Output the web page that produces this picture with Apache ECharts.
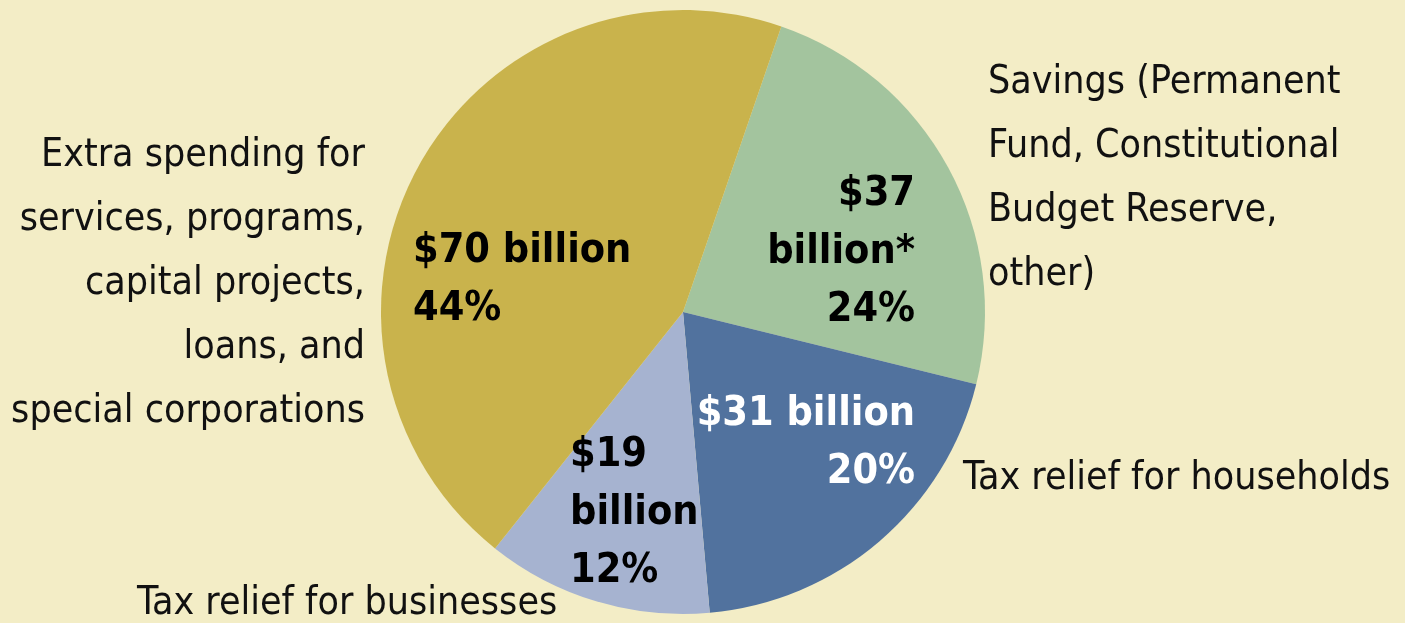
<!DOCTYPE html>
<html>
<head>
<meta charset="utf-8">
<title>Pie</title>
<script src="https://cdn.jsdelivr.net/npm/echarts@6/dist/echarts.min.js"></script>
<style>
  html, body { margin: 0; padding: 0; background: #f3edc6; }
  #main { width: 1405px; height: 623px; }
</style>
</head>
<body>
<div id="main"></div>
<script type="text/javascript">
    // data (billions of dollars)
    var names = [
        'Savings (Permanent\nFund, Constitutional\nBudget Reserve,\nother)',
        'Tax relief for households',
        'Tax relief for businesses',
        'Extra spending for\nservices, programs,\ncapital projects,\nloans, and\nspecial corporations'
    ];
    var values = [37, 31, 19, 70];
    var percents = [24, 20, 12, 44];
    var notes = ['*', '', '', ''];

    var colors = ['#a3c49e', '#51729e', '#a6b3d0', '#c9b34c'];
    var font = '"Liberation Sans Narrow", "DejaVu Sans Condensed", sans-serif';

    // how each inner label breaks its lines, and where it sits
    var innerBreaks = [['\n', '\n'], [' ', '\n'], ['\n', '\n'], [' ', '\n']];
    var innerPos = [
        {x: 915, y: 252, align: 'right'},
        {x: 915, y: 443, align: 'right'},
        {x: 570, y: 513, align: 'left'},
        {x: 413, y: 280, align: 'left'}
    ];
    var outerPos = [
        {x: 988, y: 179, align: 'left'},
        {x: 963, y: 479, align: 'left'},
        {x: 137, y: 604, align: 'left'},
        {x: 365, y: 284, align: 'right'}
    ];

    var myChart = echarts.init(document.getElementById('main'));

    var pieData = values.map(function (v, i) {
        return {value: v, name: names[i], itemStyle: {color: colors[i]}};
    });

    var option = {
        backgroundColor: '#f3edc6',
        animation: false,
        series: [
            {
                type: 'pie',
                center: [683, 312],
                radius: 302,
                startAngle: 71,
                silent: true,
                itemStyle: {borderWidth: 0},
                data: pieData,
                label: {
                    show: true,
                    position: 'inside',
                    fontFamily: font,
                    fontWeight: 'bold',
                    fontSize: 41,
                    lineHeight: 58,
                    overflow: 'none',
                    formatter: function (p) {
                        var i = p.dataIndex;
                        return '$' + values[i] + innerBreaks[i][0] + 'billion' + notes[i] +
                            innerBreaks[i][1] + percents[i] + '%';
                    },
                    color: '#000'
                },
                labelLine: {show: false},
                labelLayout: function (p) {
                    var pos = innerPos[p.dataIndex];
                    return {x: pos.x, y: pos.y, align: pos.align, verticalAlign: 'middle'};
                }
            },
            {
                type: 'pie',
                center: [683, 312],
                radius: 302,
                startAngle: 71,
                silent: true,
                itemStyle: {color: 'rgba(0,0,0,0)', borderWidth: 0},
                data: values.map(function (v, i) { return {value: v, name: names[i]}; }),
                label: {
                    show: true,
                    position: 'outside',
                    alignTo: 'none',
                    overflow: 'none',
                    fontFamily: font,
                    fontSize: 39,
                    lineHeight: 64,
                    color: '#111',
                    formatter: '{b}'
                },
                labelLine: {show: false},
                labelLayout: function (p) {
                    var pos = outerPos[p.dataIndex];
                    return {x: pos.x, y: pos.y, align: pos.align, verticalAlign: 'middle'};
                }
            }
        ]
    };

    // households label is white on the dark slice
    option.series[0].data[1].label = {color: '#fff'};

    myChart.setOption(option);
</script>
</body>
</html>
